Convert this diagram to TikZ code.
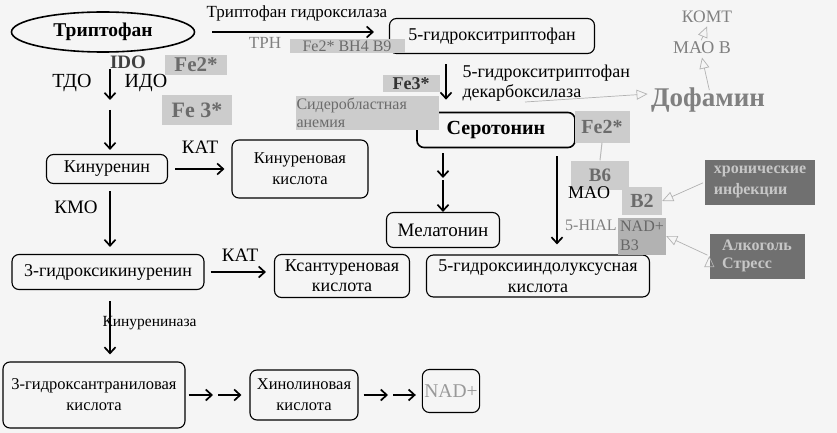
\documentclass[tikz,border=0pt]{standalone}
\usepackage{fontspec}
\setmainfont{Liberation Serif}
\usepackage{tikz}
\usetikzlibrary{arrows,arrows.meta,shapes.geometric,positioning}
\definecolor{cbg}{rgb}{0.96,0.96,0.96}
\definecolor{cgray}{rgb}{0.80,0.80,0.80}
\definecolor{cgtext}{rgb}{0.42,0.42,0.42}
\definecolor{cdark}{rgb}{0.44,0.44,0.44}
\definecolor{cdtext}{rgb}{0.78,0.78,0.78}
\newcommand{\diagsz}[2]{\fontsize{#1}{#2}\selectfont}

\begin{document}
\begin{tikzpicture}[x=1pt,y=-1pt,>={Straight Barb[length=6pt,width=11pt]},
  font=\diagsz{18}{21},
  main node/.style={draw,rounded corners=7pt,line width=1.1pt,align=center,inner sep=2pt},
  gray node/.style={fill=cgray,text=cgtext,font=\diagsz{18}{20}\bfseries,inner sep=1pt},
  dark node/.style={fill=cdark,text=cdtext,font=\diagsz{16}{20}\bfseries,align=left,inner sep=2pt},
  arr/.style={->,line width=1.7pt},
  garr/.style={-{Triangle[open,length=11pt,width=10pt]},draw=gray!60,line width=0.7pt,double=white,double distance=2pt}]
  \useasboundingbox[fill=cbg] (0,0) rectangle (837,433);

  % tryptophan -> serotonin branch
  \node[draw,ellipse,line width=1.6pt,minimum width=183pt,minimum height=40pt,font=\diagsz{19.5}{22}\bfseries] (trp) at (103,32) {Триптофан};
  \node[main node,minimum width=205pt,minimum height=35pt] (htp) at (492,36) {5-гидрокситриптофан};
  \node[main node,line width=1.6pt,minimum width=158pt,minimum height=35pt,font=\diagsz{20}{22}\bfseries] (ser) at (496,130) {Серотонин};
  \node[main node,minimum width=113pt,minimum height=35pt,font=\diagsz{19}{21}] (mel) at (443,230) {Мелатонин};
  \node[main node,minimum width=223pt,minimum height=42pt,font=\diagsz{18}{21}] (hiaa) at (538,276) {5-гидроксииндолуксусная\\кислота};

  % kynurenine branch
  \node[main node,minimum width=121pt,minimum height=29pt] (kyn) at (107,169) {Кинуренин};
  \node[main node,minimum width=136pt,minimum height=58pt,font=\diagsz{16.5}{21}] (kyna) at (300,169) {Кинуреновая\\кислота};
  \node[main node,minimum width=192pt,minimum height=35pt] (hk) at (108,272) {3-гидроксикинуренин};
  \node[main node,minimum width=135pt,minimum height=43pt,font=\diagsz{18}{20}] (xa) at (342,276) {Ксантуреновая\\кислота};
  \node[main node,minimum width=182pt,minimum height=66pt,font=\diagsz{16.5}{21}] (haa) at (94,395) {3-гидроксантраниловая\\кислота};
  \node[main node,minimum width=108pt,minimum height=50pt,font=\diagsz{16.5}{21}] (qa) at (304,395) {Хинолиновая\\кислота};
  \node[main node,minimum width=54pt,minimum height=43pt,text=gray!80,font=\diagsz{19.5}{21}] (nad) at (451,391) {NAD+};

  % cofactors
  \node[gray node,minimum width=115pt,minimum height=14pt,font=\diagsz{16}{16}] (fe1) at (347,46) {Fe2* BH4 B9};
  \node[gray node,minimum width=62pt,minimum height=20pt,font=\diagsz{21}{22}\bfseries] (fe2) at (196,65) {Fe2*};
  \node[gray node,minimum width=70pt,minimum height=29pt,font=\diagsz{22}{24}\bfseries] (fe3) at (197,110) {Fe 3*};
  \node[gray node,minimum width=57pt,minimum height=17pt,text=black!80] (fe4) at (411,84) {Fe3*};
  \node[gray node,text width=141pt,minimum height=34pt,align=left,font=\diagsz{16}{18}] (anem) at (367,113) {Сидеробластная\\анемия};
  \node[gray node,minimum width=55pt,minimum height=31pt,font=\diagsz{20}{22}\bfseries] (fe5) at (602,127) {Fe2*};
  \node[gray node,minimum width=58pt,minimum height=29pt,font=\diagsz{19}{21}\bfseries] (b6) at (600,175) {B6};
  \node[gray node,minimum width=40pt,minimum height=28pt,font=\diagsz{20}{22}\bfseries] (b2) at (642,201) {B2};
  \node[gray node,fill=gray!60,text=black!60,minimum width=48pt,minimum height=37pt,align=left,font=\diagsz{16}{19}] (b3) at (642,236) {NAD+\\B3};
  \node[dark node,minimum width=110pt,minimum height=45pt,font=\diagsz{16}{21}\bfseries] (inf) at (760,182) {хронические\\инфекции};
  \node[dark node,minimum width=95pt,minimum height=45pt,font=\diagsz{16}{18}\bfseries] (alc) at (757,256) {Алкоголь\\Стресс};

  % labels
  \node[font=\diagsz{17}{19}] (trph) at (297,13) {Триптофан гидроксилаза};
  \node[text=gray,font=\diagsz{17}{19}] (tph) at (265,43) {TPH};
  \node[font=\diagsz{19}{21}\bfseries,text=black!75] (ido1) at (128,62) {IDO};
  \node[font=\diagsz{20}{22}] (tdo) at (72,83) {ТДО};
  \node[font=\diagsz{20}{22}] (ido2) at (146,83) {ИДО};
  \node[align=left,anchor=west,font=\diagsz{18}{20}] (ddc) at (459,83) {5-гидрокситриптофан\\декарбоксилаза};
  \node[text=gray,font=\diagsz{27}{29}\bfseries] (dop) at (708,100) {Дофамин};
  \node[text=gray,font=\diagsz{18}{20}] (maob) at (702,48) {МАО В};
  \node[text=gray,font=\diagsz{17.5}{19}] (komt) at (707,17) {КОМТ};
  \node[font=\diagsz{19}{21}] (kat1) at (200,147) {КАТ};
  \node[font=\diagsz{19}{21}] (kmo) at (76,207) {КМО};
  \node[font=\diagsz{19}{21}] (kat2) at (240,255) {КАТ};
  \node[anchor=west,font=\diagsz{15.5}{18}] (kynase) at (99,323) {Кинурениназа};
  \node (mao) at (589,193) {MAO};
  \node[text=gray,font=\diagsz{16}{18}] (hial) at (591,225) {5-HIAL};

  \coordinate (c1) at (110,105);
  \coordinate (c2) at (443,179);
  \coordinate (c3) at (216,395);
  \coordinate (c4) at (391,395);
  \coordinate (c5) at (525,102);

  \path[arr]
    (trp.east) edge[shorten <=17pt,shorten >=15pt] (trp.east -| htp.west)
    ([xshift=-46pt]htp.south) edge[shorten <=10pt,shorten >=12pt] ([xshift=-50pt]ser.north)
    (ser.south -| c2) edge[shorten <=5pt,shorten >=1pt] (c2)
    (c2) edge[shorten <=1pt] (mel.north)
    ([xshift=61pt]ser.south) edge[shorten <=8pt,shorten >=10pt] ([xshift=19pt]hiaa.north)
    (trp.south -| c1) edge[shorten <=16pt,shorten >=5pt] (c1)
    (c1) edge[shorten <=5pt,shorten >=4pt] (kyn.north -| c1)
    (kyn.east) edge[shorten <=7pt,shorten >=7pt] (kyna.west |- kyn.east)
    (kyn.south -| c1) edge[shorten <=7pt,shorten >=7pt] (hk.north -| c1)
    (hk.east) edge[shorten <=6pt,shorten >=8pt] (xa.west |- hk.east)
    (hk.south -| c1) edge[shorten <=11pt,shorten >=7pt] (haa.north -| c1)
    (haa.east) edge[shorten <=3pt,shorten >=3pt] (c3)
    (c3) edge[shorten <=2pt,shorten >=8pt] (qa.west)
    (qa.east) edge[shorten <=5pt,shorten >=3pt] (c4)
    (c4) edge[shorten <=2pt,shorten >=6pt] (nad.west |- c4);

  \path[garr]
    (c5) edge ([yshift=6pt]dop.west)
    (dop.north) edge[shorten <=-6pt] (maob.south)
    (maob.north) edge[shorten <=-2pt] (komt.south)
    (inf.west) edge[shorten <=2pt] (b2.east)
    (alc.west) edge[shorten <=2pt] (b3.east);
  \draw[gray!55,line width=1pt] (fe5.south) -- (b6.north);
\end{tikzpicture}
\end{document}
